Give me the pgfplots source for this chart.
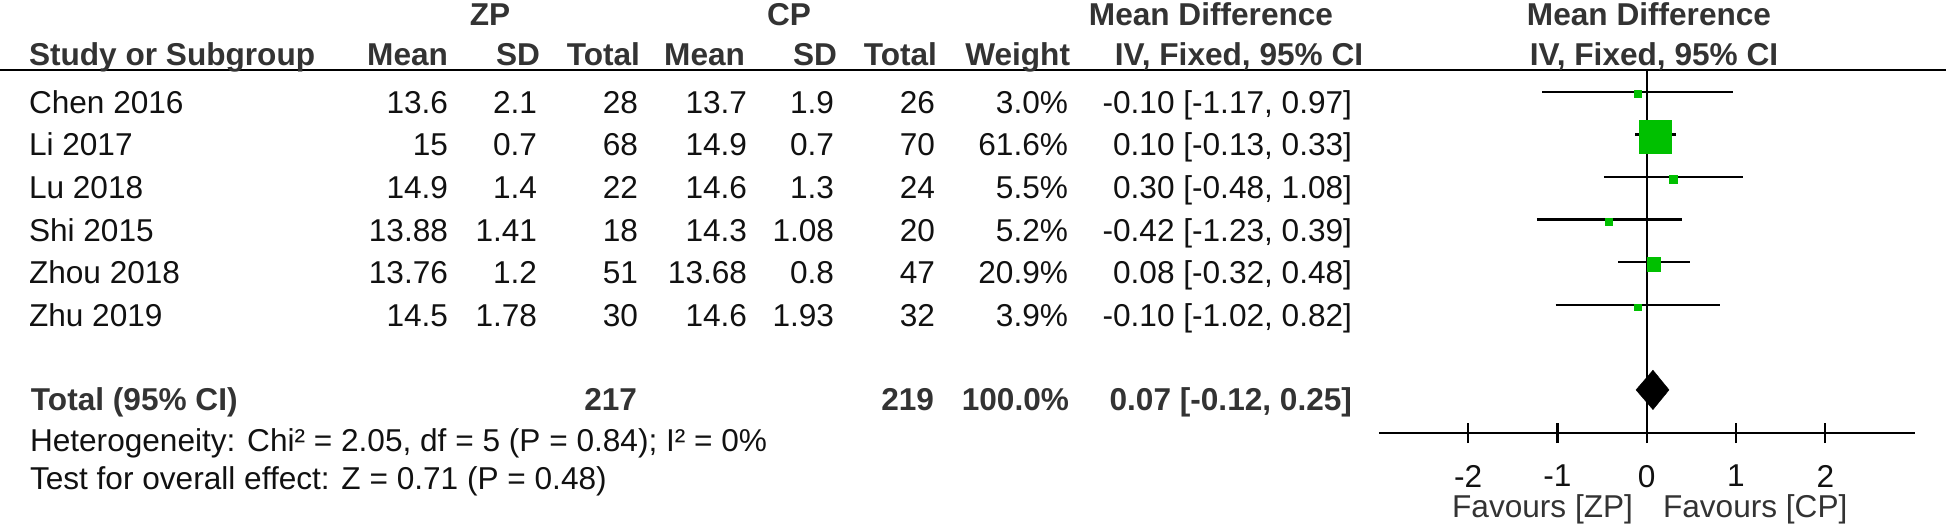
\documentclass[border=0pt]{standalone}
\usepackage{pgfplots}
\pgfplotsset{compat=1.18}
\usepackage{fontspec}
\setmainfont{Liberation Sans}
\definecolor{rmgreen}{RGB}{0,192,0}
\definecolor{hdr}{RGB}{51,51,51}
\definecolor{txt}{RGB}{17,17,17}
% text node at pixel position (x = px from left, y = baseline px from top)
\newcommand{\T}[4]{\node[anchor=#1,inner sep=0pt,outer sep=0pt] at ({#2*0.5pt},{-#3*0.5pt}) {#4};}
\newcommand{\Row}[9]{%
  \T{base west}{29}{#1}{#2}%
  \T{base east}{448}{#1}{#3}%
  \T{base east}{537}{#1}{#4}%
  \T{base east}{638}{#1}{#5}%
  \T{base east}{747}{#1}{#6}%
  \T{base east}{834}{#1}{#7}%
  \T{base east}{935}{#1}{#8}%
  \T{base east}{1068}{#1}{#9}}
\begin{document}
\fontsize{15.8pt}{18pt}\selectfont
\begin{tikzpicture}
\path[use as bounding box] (0,0) rectangle (973pt,-262.5pt);
% header rule
\draw[line width=1.3pt, black] (0pt,-35pt) -- (973pt,-35pt);
% headers
\begin{scope}[color=hdr]
\bfseries
\T{base}{490}{25}{ZP}
\T{base}{789}{25}{CP}
\T{base}{1211}{25}{Mean Difference}
\T{base}{1649}{25}{Mean Difference}
\T{base west}{29}{65}{Study or Subgroup}
\T{base east}{448}{65}{Mean}
\T{base east}{540}{65}{SD}
\T{base east}{640}{65}{Total}
\T{base east}{745}{65}{Mean}
\T{base east}{837}{65}{SD}
\T{base east}{937}{65}{Total}
\T{base east}{1070}{65}{Weight}
\T{base}{1239}{65}{IV, Fixed, 95\% CI}
\T{base}{1654}{65}{IV, Fixed, 95\% CI}
% total row
\T{base west}{31}{410.5}{Total (95\% CI)}
\T{base east}{637}{410.5}{217}
\T{base east}{934}{410.5}{219}
\T{base east}{1069}{410.5}{100.0\%}
\T{base east}{1352}{410.5}{0.07 [-0.12, 0.25]}
\end{scope}
% study rows
\begin{scope}[color=txt]
\Row{113.3}{Chen 2016}{13.6}{2.1}{28}{13.7}{1.9}{26}{3.0\%}
\T{base east}{1352}{113.3}{-0.10 [-1.17, 0.97]}
\Row{155.9}{Li 2017}{15}{0.7}{68}{14.9}{0.7}{70}{61.6\%}
\T{base east}{1352}{155.9}{0.10 [-0.13, 0.33]}
\Row{198.5}{Lu 2018}{14.9}{1.4}{22}{14.6}{1.3}{24}{5.5\%}
\T{base east}{1352}{198.5}{0.30 [-0.48, 1.08]}
\Row{241.1}{Shi 2015}{13.88}{1.41}{18}{14.3}{1.08}{20}{5.2\%}
\T{base east}{1352}{241.1}{-0.42 [-1.23, 0.39]}
\Row{283.7}{Zhou 2018}{13.76}{1.2}{51}{13.68}{0.8}{47}{20.9\%}
\T{base east}{1352}{283.7}{0.08 [-0.32, 0.48]}
\Row{326.3}{Zhu 2019}{14.5}{1.78}{30}{14.6}{1.93}{32}{3.9\%}
\T{base east}{1352}{326.3}{-0.10 [-1.02, 0.82]}
\T{base west}{30}{451}{Heterogeneity: Chi² = 2.05, df = 5 (P = 0.84); I² = 0\%}
\T{base west}{30}{489}{Test for overall effect: Z = 0.71 (P = 0.48)}
\end{scope}
\begin{scope}[color=hdr]
\T{base east}{1633}{517}{Favours [ZP]}
\T{base west}{1663}{517}{Favours [CP]}
\end{scope}
% forest plot
\begin{axis}[
  at={(689.4pt,-35pt)}, anchor=north west,
  scale only axis, width=267.9pt, height=181.5pt,
  xmin=-3, xmax=3, ymin=-9.012, ymax=-0.4906,
  axis x line*=bottom, axis y line=none,
  x axis line style={-, line width=1.25pt, black},
  xtick={-2,-1,0,1,2}, xticklabels={-2,-1,0,1,2},
  tick align=center, major tick length=10pt,
  every tick/.style={black, line width=1.1pt},
  xticklabel style={yshift=-5.5pt, text=txt},
  clip=false, unbounded coords=jump,
]
\addplot[black, line width=1pt] coordinates {(0,-0.4906) (0,-9.012)};
\addplot[black, line width=1.2pt] table {
x y
-1.17 -1
0.97 -1
nan nan
-0.13 -2
0.33 -2
nan nan
-0.48 -3
1.08 -3
nan nan
-1.23 -4
0.39 -4
nan nan
-0.32 -5
0.48 -5
nan nan
-1.02 -6
0.82 -6
};
\addplot[only marks, mark=square*, scatter,
  scatter/use mapped color={draw=rmgreen, fill=rmgreen},
  visualization depends on={\thisrow{s} \as \msize},
  scatter/@pre marker code/.append style={/tikz/mark size=\msize pt},
  mark options={line width=0pt}]
  table {
x y s
-0.10 -1.06 1.675
0.10 -2.06 8.08
0.30 -3.06 1.875
-0.42 -4.06 1.8
0.08 -5.06 3.425
-0.10 -6.06 1.625
};
\addplot[fill=black, draw=black, line width=0.2pt] coordinates {(-0.12,-8) (0.07,-7.5375) (0.25,-8) (0.07,-8.4625)} -- cycle;
\end{axis}
\end{tikzpicture}
\end{document}
